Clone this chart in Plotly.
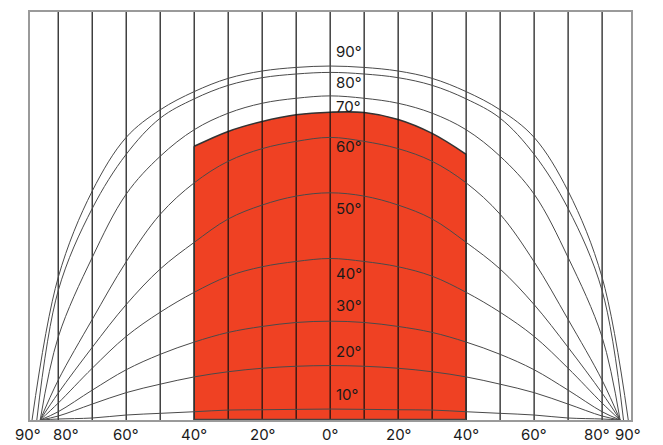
import plotly.graph_objects as go

# ---------------- data ----------------
GRID_X = [-80, -70, -60, -50, -40, -30, -20, -10, 0, 10, 20, 30, 40, 50, 60, 70, 80]

PROFILE_X = [-80, -70, -60, -50, -40, -30, -20, -10, 0]
CURVE_NAMES = ["90°", "80°", "70°", "60°", "50°", "40°", "30°", "20°", "10°"]
CURVE_END = [-87.7, -86.3, -85.3, -85.3, -85.3, -85.3, -85.3, -85.3, -85.3]
C90 = [143.3, 230.0, 284.0, 311.7, 330.0, 343.3, 350.7, 354.3, 355.7]
C80 = [130.0, 212.5, 267.0, 303.3, 322.7, 336.3, 344.0, 347.7, 349.3]
C70 = [83.3, 163.3, 227.0, 265.0, 291.7, 308.3, 318.3, 323.3, 325.7]
C60 = [40.0, 101.0, 159.0, 206.7, 238.3, 260.0, 272.7, 280.0, 284.0]
C50 = [27.0, 73.0, 116.0, 151.7, 178.5, 202.0, 216.0, 225.0, 228.3]
C40 = [17.0, 52.0, 84.0, 108.3, 128.3, 144.5, 154.0, 159.3, 162.3]
C30 = [8.3, 30.0, 50.5, 66.0, 78.3, 88.0, 94.0, 98.0, 99.3]
C20 = [4.0, 16.0, 27.5, 36.0, 43.3, 48.5, 52.0, 54.0, 54.7]
C10 = [1.0, 2.0, 5.0, 6.7, 8.3, 10.0, 10.3, 10.7, 11.0]
CURVES = [C90, C80, C70, C60, C50, C40, C30, C20, C10]

LABEL_H = [370, 339.5, 315, 275, 213, 147, 115, 69, 26]

RED_X = [-40, -30, -20, -10, 0, 10, 20, 30, 40]
RED_H = [275.0, 290.0, 300.0, 306.7, 309.3, 309.0, 302.0, 288.0, 267.0]

TICK_POS = [-88.8, -77.6, -60, -40, -20, 0, 20, 40, 60, 78.6, 87.6]
TICK_TEXT = ["90°", "80°", "60°", "40°", "20°", "0°", "20°", "40°", "60°", "80°", "90°"]

X_RANGE = [-88.3, 88.5]
Y_RANGE = [0, 410]

RED = "#EF4123"
CURVE_COLOR = "#4a4a4a"
GRID_COLOR = "#111111"
FONT = "Inter"

fig = go.Figure()

# red beam area
fig.add_trace(go.Scatter(x=RED_X, y=RED_H, mode="lines", line=dict(color="#333333", width=1.6, shape="spline"),
                         fill="tozeroy", fillcolor=RED, hoverinfo="skip", showlegend=False))

# vertical grid lines (above the fill)
gx, gy = [], []
for v in GRID_X:
    gx += [v, v, None]
    gy += [Y_RANGE[0], Y_RANGE[1], None]
fig.add_trace(go.Scatter(x=gx, y=gy, mode="lines", line=dict(color=GRID_COLOR, width=1.2),
                         hoverinfo="skip", showlegend=False))

# red area side outlines
fig.add_trace(go.Scatter(x=[RED_X[0], RED_X[0], None, RED_X[-1], RED_X[-1]],
                         y=[0, RED_H[0], None, 0, RED_H[-1]], mode="lines",
                         line=dict(color="#333333", width=1.6), hoverinfo="skip", showlegend=False))

# angle curves (symmetric about 0)
for name, end, h in zip(CURVE_NAMES, CURVE_END, CURVES):
    xs = [end] + PROFILE_X + [-v for v in reversed(PROFILE_X[:-1])] + [-end]
    ys = [0] + h + list(reversed(h[:-1])) + [0]
    fig.add_trace(go.Scatter(x=xs, y=ys, mode="lines", name=name,
                             line=dict(color=CURVE_COLOR, width=1, shape="spline", smoothing=1.0),
                             hoverinfo="skip", showlegend=False))

# bottom red outline
fig.add_trace(go.Scatter(x=[RED_X[0], RED_X[-1]], y=[0, 0], mode="lines",
                         line=dict(color="#444444", width=2.5), hoverinfo="skip", showlegend=False))

annotations = []
for name, yh in zip(CURVE_NAMES, LABEL_H):
    annotations.append(dict(x=1.2, y=yh, xref="x", yref="y", text=name, showarrow=False,
                            xanchor="left", yanchor="middle",
                            font=dict(family=FONT, size=15, color="#1a1a1a")))
span = X_RANGE[1] - X_RANGE[0]
for p, t in zip(TICK_POS, TICK_TEXT):
    annotations.append(dict(x=(p - X_RANGE[0]) / span, y=-0.036, xref="paper", yref="paper", text=t,
                            showarrow=False, xanchor="center", yanchor="middle", borderpad=0,
                            font=dict(family=FONT, size=15, color="#1a1a1a")))

# page body has an 8px margin, so the figure is shrunk and margins offset to keep
# the plot frame at the reference position
fig.update_layout(
    width=655, height=437,
    margin=dict(l=22, r=32, t=2, b=25),
    paper_bgcolor="white", plot_bgcolor="white",
    xaxis=dict(range=X_RANGE, showgrid=False, zeroline=False, showticklabels=False, ticks="",
               showline=True, linecolor="#9a9a9a", linewidth=1.5, mirror=True),
    yaxis=dict(range=Y_RANGE, showgrid=False, zeroline=False, showticklabels=False, ticks="",
               showline=True, linecolor="#9a9a9a", linewidth=1.5, mirror=True),
    annotations=annotations,
)

fig.write_html("out.html")
